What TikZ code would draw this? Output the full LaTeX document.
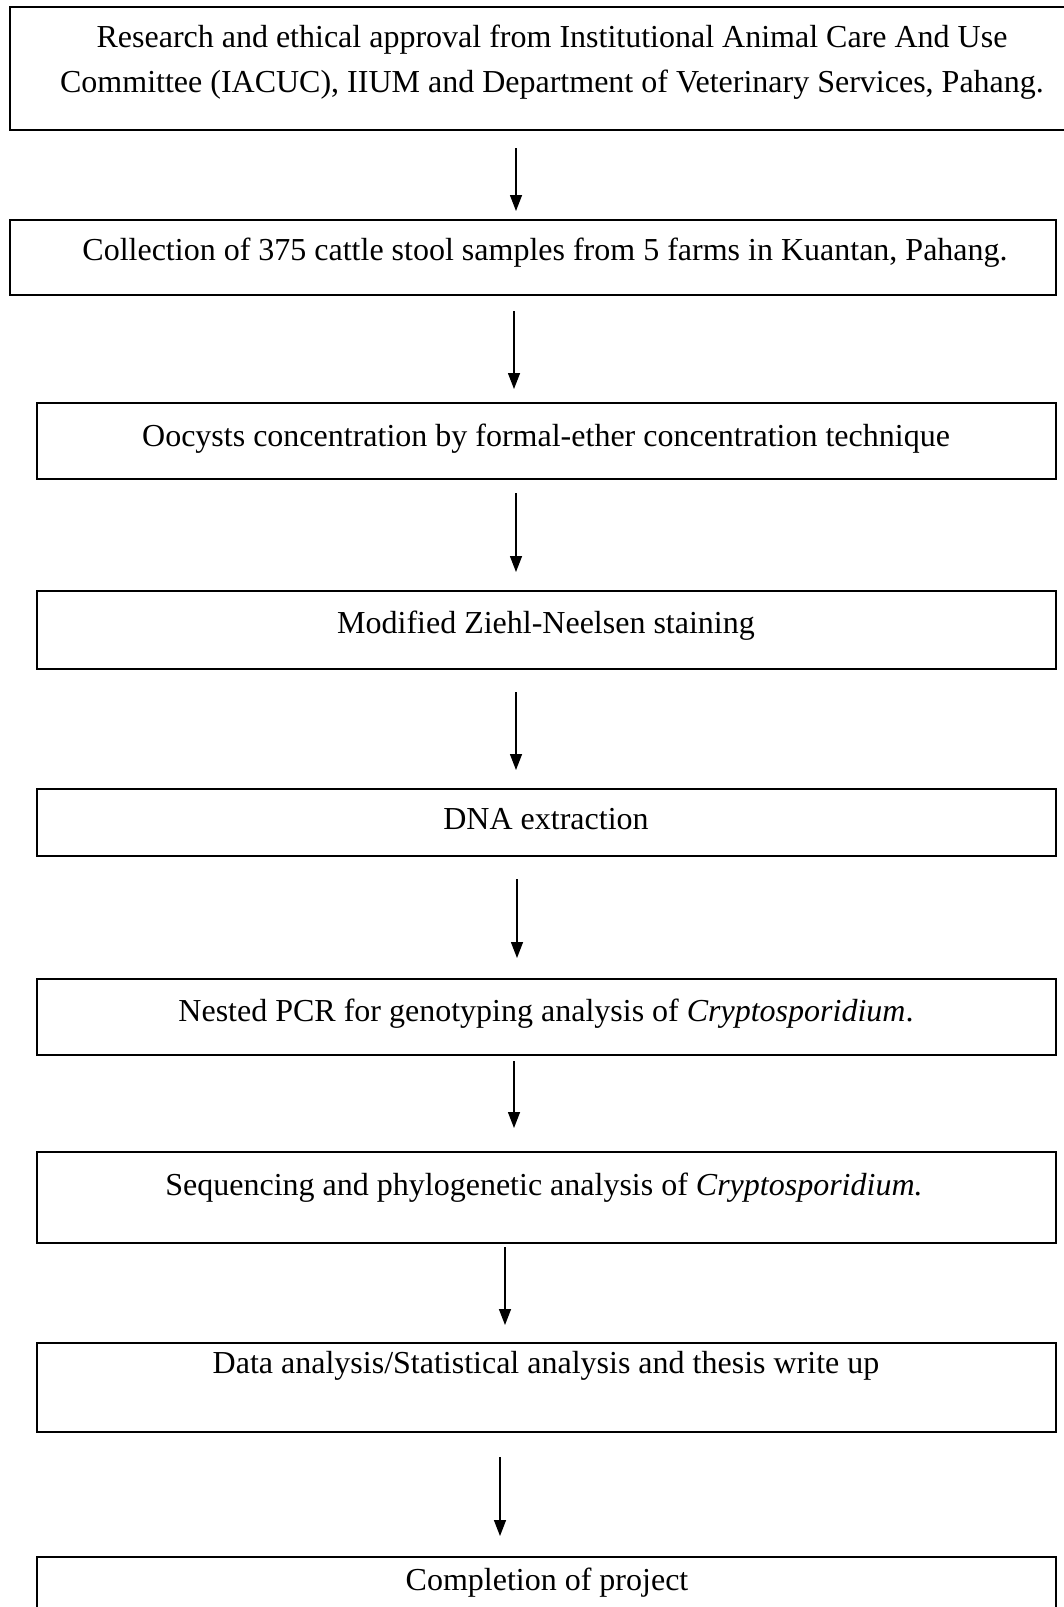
\documentclass[tikz,border=0pt]{standalone}
\usepackage{fontspec}
\setmainfont{Liberation Serif}
\usetikzlibrary{arrows.meta}
\begin{document}
\begin{tikzpicture}[x=1pt,y=-1pt,
  box/.style={draw=black,line width=2pt,rectangle,anchor=north west,inner sep=0pt,outer sep=0pt},
  txt/.style={anchor=base,inner sep=0pt,font=\fontsize{32}{45}\selectfont,align=center},
  arr/.style={line width=1.4pt,-{Triangle[length=16pt,width=12pt]}}]
\useasboundingbox (0,0) rectangle (1064,1607);
\fill[white] (0,0) rectangle (1064,1607);
% boxes
\node[box,minimum width=1061pt,minimum height=123pt] (b1) at (9.5,7) {};
\node[box,minimum width=1046.5pt,minimum height=75pt] (b2) at (9.5,220) {};
\node[box,minimum width=1019.4pt,minimum height=76pt] (b3) at (36.6,403) {};
\node[box,minimum width=1019.4pt,minimum height=78pt] (b4) at (36.6,591) {};
\node[box,minimum width=1019.4pt,minimum height=67pt] (b5) at (36.6,789) {};
\node[box,minimum width=1019.4pt,minimum height=76pt] (b6) at (36.6,979) {};
\node[box,minimum width=1019.4pt,minimum height=91pt] (b7) at (36.6,1152) {};
\node[box,minimum width=1019.4pt,minimum height=89pt] (b8) at (36.6,1343) {};
\node[box,minimum width=1019.4pt,minimum height=70pt] (b9) at (36.6,1557) {};
% texts
\node[txt] (t1) at (552,92) {Research and ethical approval from Institutional Animal Care And Use\\Committee (IACUC), IIUM and Department of Veterinary Services, Pahang.};
\node[txt] (t2) at (545,260) {Collection of 375 cattle stool samples from 5 farms in Kuantan, Pahang.};
\node[txt] (t3) at (546,446) {Oocysts concentration by formal-ether concentration technique};
\node[txt] (t4) at (546,633) {Modified Ziehl-Neelsen staining};
\node[txt] (t5) at (546,829) {DNA extraction};
\node[txt] (t6) at (546,1021) {Nested PCR for genotyping analysis of \textit{Cryptosporidium}.};
\node[txt] (t7) at (544,1195) {Sequencing and phylogenetic analysis of \textit{Cryptosporidium.}};
\node[txt] (t8) at (546,1373) {Data analysis/Statistical analysis and thesis write up};
\node[txt] (t9) at (547,1590) {Completion of project};
% arrow x positions
\coordinate (x1) at (516,0);
\coordinate (x2) at (514,0);
\coordinate (x3) at (516,0);
\coordinate (x4) at (516,0);
\coordinate (x5) at (517,0);
\coordinate (x6) at (514,0);
\coordinate (x7) at (505,0);
\coordinate (x8) at (500,0);
\draw[arr,shorten <=18pt,shorten >=9pt] (b1.south -| x1) -- (b2.north -| x1);
\draw[arr,shorten <=16pt,shorten >=14pt] (b2.south -| x2) -- (b3.north -| x2);
\draw[arr,shorten <=14pt,shorten >=19pt] (b3.south -| x3) -- (b4.north -| x3);
\draw[arr,shorten <=23pt,shorten >=19pt] (b4.south -| x4) -- (b5.north -| x4);
\draw[arr,shorten <=23pt,shorten >=21pt] (b5.south -| x5) -- (b6.north -| x5);
\draw[arr,shorten <=6pt,shorten >=24pt] (b6.south -| x6) -- (b7.north -| x6);
\draw[arr,shorten <=4pt,shorten >=18pt] (b7.south -| x7) -- (b8.north -| x7);
\draw[arr,shorten <=25pt,shorten >=21pt] (b8.south -| x8) -- (b9.north -| x8);
\end{tikzpicture}
\end{document}
